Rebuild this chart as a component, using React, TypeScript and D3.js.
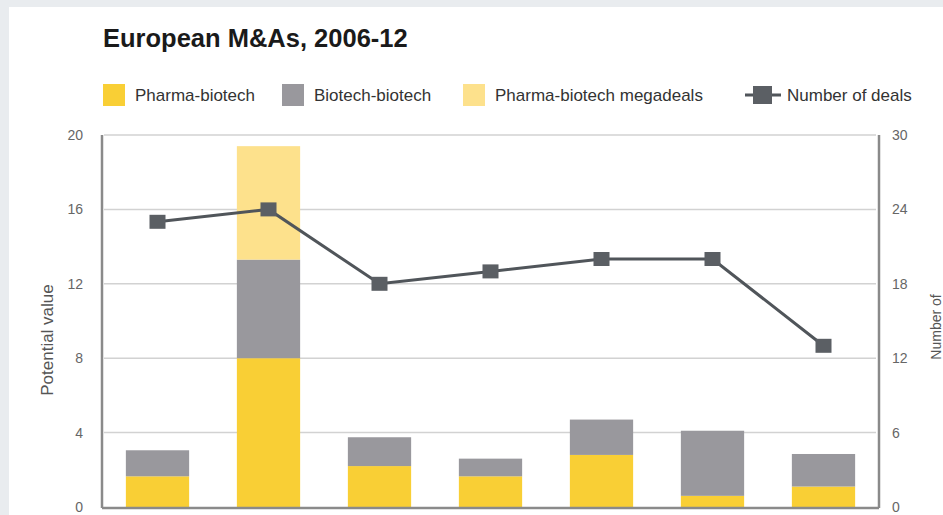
import React, { useEffect, useRef } from "react";
import * as d3 from "d3";

// Values
const years = ["2006", "2007", "2008", "2009", "2010", "2011", "2012"];
const pharmaBiotech = [1.65, 8.0, 2.2, 1.65, 2.8, 0.6, 1.1];
const biotechBiotech = [1.4, 5.3, 1.55, 0.95, 1.9, 3.5, 1.75];
const megadeals = [0, 6.1, 0, 0, 0, 0, 0];
const numberOfDeals = [23, 24, 18, 19, 20, 20, 13];

const leftTicks = [0, 4, 8, 12, 16, 20];
const rightTicks = [0, 6, 12, 18, 24, 30];

const COLORS = {
  pharma: "#f9cf35",
  biotech: "#99989d",
  mega: "#fde18c",
  line: "#50555a",
  marker: "#5b5f64",
};

export default function App() {
  const svgRef = useRef<SVGSVGElement>(null);

  useEffect(() => {
    document.body.style.margin = "0";
    document.body.style.overflow = "hidden";
    if (!svgRef.current) return;

    const W = 943;
    const H = 515;
    const svg = d3.select(svgRef.current);
    svg.selectAll("*").remove();

    const font = "'Liberation Sans', Arial, sans-serif";

    // page background + white panel
    svg.append("rect").attr("width", W).attr("height", H).attr("fill", "#e9ecef");
    svg.append("rect").attr("x", 9).attr("y", 7).attr("width", W - 9).attr("height", H - 7).attr("fill", "#fff");

    const left = 102;
    const right = 879;
    const bottom = 507;
    const top = 135;

    const x = d3.scaleBand<string>().domain(years).range([left, right]).paddingInner(0.43).paddingOuter(0.215);
    const yL = d3.scaleLinear().domain([0, 20]).range([bottom, top]);
    const yR = d3.scaleLinear().domain([0, 30]).range([bottom, top]);

    // title
    svg
      .append("text")
      .attr("x", 103)
      .attr("y", 47)
      .attr("font-family", font)
      .attr("font-size", "25.5px")
      .attr("font-weight", "bold")
      .attr("fill", "#1a1a1a")
      .text("European M&As, 2006-12");

    // legend
    const legendItems = [
      { label: "Pharma-biotech", color: COLORS.pharma, x: 103 },
      { label: "Biotech-biotech", color: COLORS.biotech, x: 282 },
      { label: "Pharma-biotech megadeals", color: COLORS.mega, x: 463 },
    ];
    legendItems.forEach((d) => {
      svg.append("rect").attr("x", d.x).attr("y", 84).attr("width", 22).attr("height", 22).attr("fill", d.color);
      svg
        .append("text")
        .attr("x", d.x + 32)
        .attr("y", 101)
        .attr("font-family", font)
        .attr("font-size", "17px")
        .attr("fill", "#333")
        .text(d.label);
    });
    svg.append("line").attr("x1", 745).attr("x2", 781).attr("y1", 95).attr("y2", 95).attr("stroke", COLORS.line).attr("stroke-width", 3);
    svg.append("rect").attr("x", 753).attr("y", 86).attr("width", 19).attr("height", 18).attr("fill", COLORS.marker);
    svg
      .append("text")
      .attr("x", 787)
      .attr("y", 101)
      .attr("font-family", font)
      .attr("font-size", "17px")
      .attr("fill", "#333")
      .text("Number of deals");

    // gridlines
    svg
      .selectAll(".grid")
      .data(leftTicks.filter((t) => t > 0))
      .enter()
      .append("line")
      .attr("x1", left + 2)
      .attr("x2", right - 3)
      .attr("y1", (d) => yL(d))
      .attr("y2", (d) => yL(d))
      .attr("stroke", "#d2d2d2")
      .attr("stroke-width", 1.5);

    // stacked bars
    const rows = years.map((year, i) => ({
      year,
      pharma: pharmaBiotech[i],
      biotech: biotechBiotech[i],
      mega: megadeals[i],
    }));
    const stack = d3.stack<(typeof rows)[number]>().keys(["pharma", "biotech", "mega"]);
    const series = stack(rows);
    const colorOf: Record<string, string> = { pharma: COLORS.pharma, biotech: COLORS.biotech, mega: COLORS.mega };

    series.forEach((s) => {
      svg
        .append("g")
        .selectAll("rect")
        .data(s)
        .enter()
        .append("rect")
        .attr("x", (d) => x(d.data.year)!)
        .attr("width", x.bandwidth())
        .attr("y", (d) => yL(d[1]))
        .attr("height", (d) => yL(d[0]) - yL(d[1]))
        .attr("fill", colorOf[s.key]);
    });

    // axes lines
    const axisColor = "#8a8a8a";
    svg.append("line").attr("x1", left).attr("x2", left).attr("y1", top).attr("y2", bottom + 1).attr("stroke", axisColor).attr("stroke-width", 2.5);
    svg.append("line").attr("x1", right).attr("x2", right).attr("y1", top).attr("y2", bottom + 1).attr("stroke", axisColor).attr("stroke-width", 2.5);
    svg.append("line").attr("x1", left).attr("x2", right).attr("y1", bottom + 1).attr("y2", bottom + 1).attr("stroke", axisColor).attr("stroke-width", 2.5);

    // tick labels
    svg
      .selectAll(".ltick")
      .data(leftTicks)
      .enter()
      .append("text")
      .attr("x", 83)
      .attr("y", (d) => yL(d) + 5)
      .attr("text-anchor", "end")
      .attr("font-family", font)
      .attr("font-size", "14px")
      .attr("fill", "#666")
      .text((d) => d);
    svg
      .selectAll(".rtick")
      .data(rightTicks)
      .enter()
      .append("text")
      .attr("x", 892)
      .attr("y", (d) => yR(d) + 5)
      .attr("font-family", font)
      .attr("font-size", "14px")
      .attr("fill", "#666")
      .text((d) => d);

    // axis titles
    svg
      .append("text")
      .attr("transform", "translate(53, 340) rotate(-90)")
      .attr("text-anchor", "middle")
      .attr("font-family", font)
      .attr("font-size", "17px")
      .attr("fill", "#555")
      .text("Potential value");
    svg
      .append("text")
      .attr("transform", "translate(941, 327) rotate(-90)")
      .attr("text-anchor", "middle")
      .attr("font-family", font)
      .attr("font-size", "14px")
      .attr("fill", "#555")
      .text("Number of");

    // deals line
    const line = d3
      .line<number>()
      .x((_, i) => x(years[i])! + x.bandwidth() / 2)
      .y((d) => yR(d));
    svg
      .append("path")
      .datum(numberOfDeals)
      .attr("d", line)
      .attr("fill", "none")
      .attr("stroke", COLORS.line)
      .attr("stroke-width", 3);
    svg
      .selectAll(".marker")
      .data(numberOfDeals)
      .enter()
      .append("rect")
      .attr("x", (_, i) => x(years[i])! + x.bandwidth() / 2 - 8)
      .attr("y", (d) => yR(d) - 7)
      .attr("width", 16)
      .attr("height", 14)
      .attr("fill", COLORS.marker);
  }, []);

  return <svg ref={svgRef} width={943} height={515} style={{ display: "block" }} />;
}
